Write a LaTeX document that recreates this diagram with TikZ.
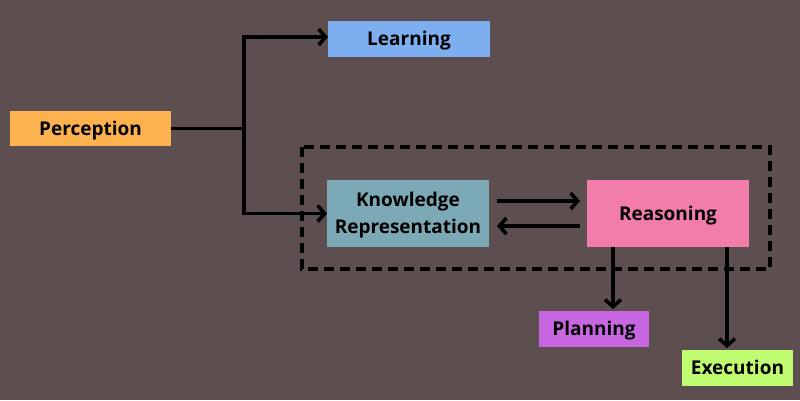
\documentclass[tikz,border=0pt]{standalone}
\usepackage{fontspec}
\setmainfont{Open Sans}
\usetikzlibrary{arrows.meta}
\definecolor{bg}{HTML}{5D4F4F}
\definecolor{cper}{HTML}{FDB24F}
\definecolor{clea}{HTML}{7DAEF0}
\definecolor{ckr}{HTML}{7BA9B6}
\definecolor{crea}{HTML}{F27CAA}
\definecolor{cpla}{HTML}{C866E1}
\definecolor{cexe}{HTML}{C0FC70}
\begin{document}
\begin{tikzpicture}[x=1pt,y=-1pt,
  box/.style={inner sep=0pt,outer sep=0pt,align=center,font=\fontsize{19}{27}\selectfont\bfseries},
  one/.style={box,text height=16pt,text depth=3pt},
  conn/.style={line width=3.6pt,draw=black},
  arr/.style={conn,-{Straight Barb[length=7pt,width=16pt,line width=3.6pt]}}]
\fill[bg] (0,0) rectangle (800,400);
\useasboundingbox (0,0) rectangle (800,400);
\node[one,fill=cper,minimum width=161pt,minimum height=35pt] (per) at (90.5,128.5) {Perception};
\node[one,fill=clea,minimum width=162pt,minimum height=36pt] (lea) at (409,39) {Learning};
\node[box,fill=ckr,minimum width=162pt,minimum height=67pt] (kr) at (408,213.5) {};
\node[box,anchor=center] (krt) at (408,215.5) {Knowledge\\Representation};
\node[one,fill=crea,minimum width=162pt,minimum height=67pt] (rea) at (668,213.5) {Reasoning};
\node[one,fill=cpla,minimum width=110pt,minimum height=36pt] (pla) at (594,329) {Planning};
\node[one,fill=cexe,minimum width=111pt,minimum height=36pt] (exe) at (737.5,368) {Execution};
\draw[line width=3.6pt,dash pattern=on 10pt off 6pt] (302,147) rectangle (770,269);
\coordinate (j) at (244,128.5);
\coordinate (a1s) at (497,201);
\coordinate (a1e) at (580,201);
\coordinate (a2s) at (580,226);
\coordinate (a2e) at (497,226);
\coordinate (pe) at (613,309);
\coordinate (ee) at (727,348);
\draw[conn] (per.east) -- (j);
\draw[arr] (j) |- ([yshift=2pt]lea.west);
\draw[arr] (j) |- (kr.west);
\draw[arr] (a1s) -- (a1e);
\draw[arr] (a2s) -- (a2e);
\draw[arr] (rea.south -| pe) -- (pe);
\draw[arr] (rea.south -| ee) -- (ee);
\end{tikzpicture}
\end{document}
